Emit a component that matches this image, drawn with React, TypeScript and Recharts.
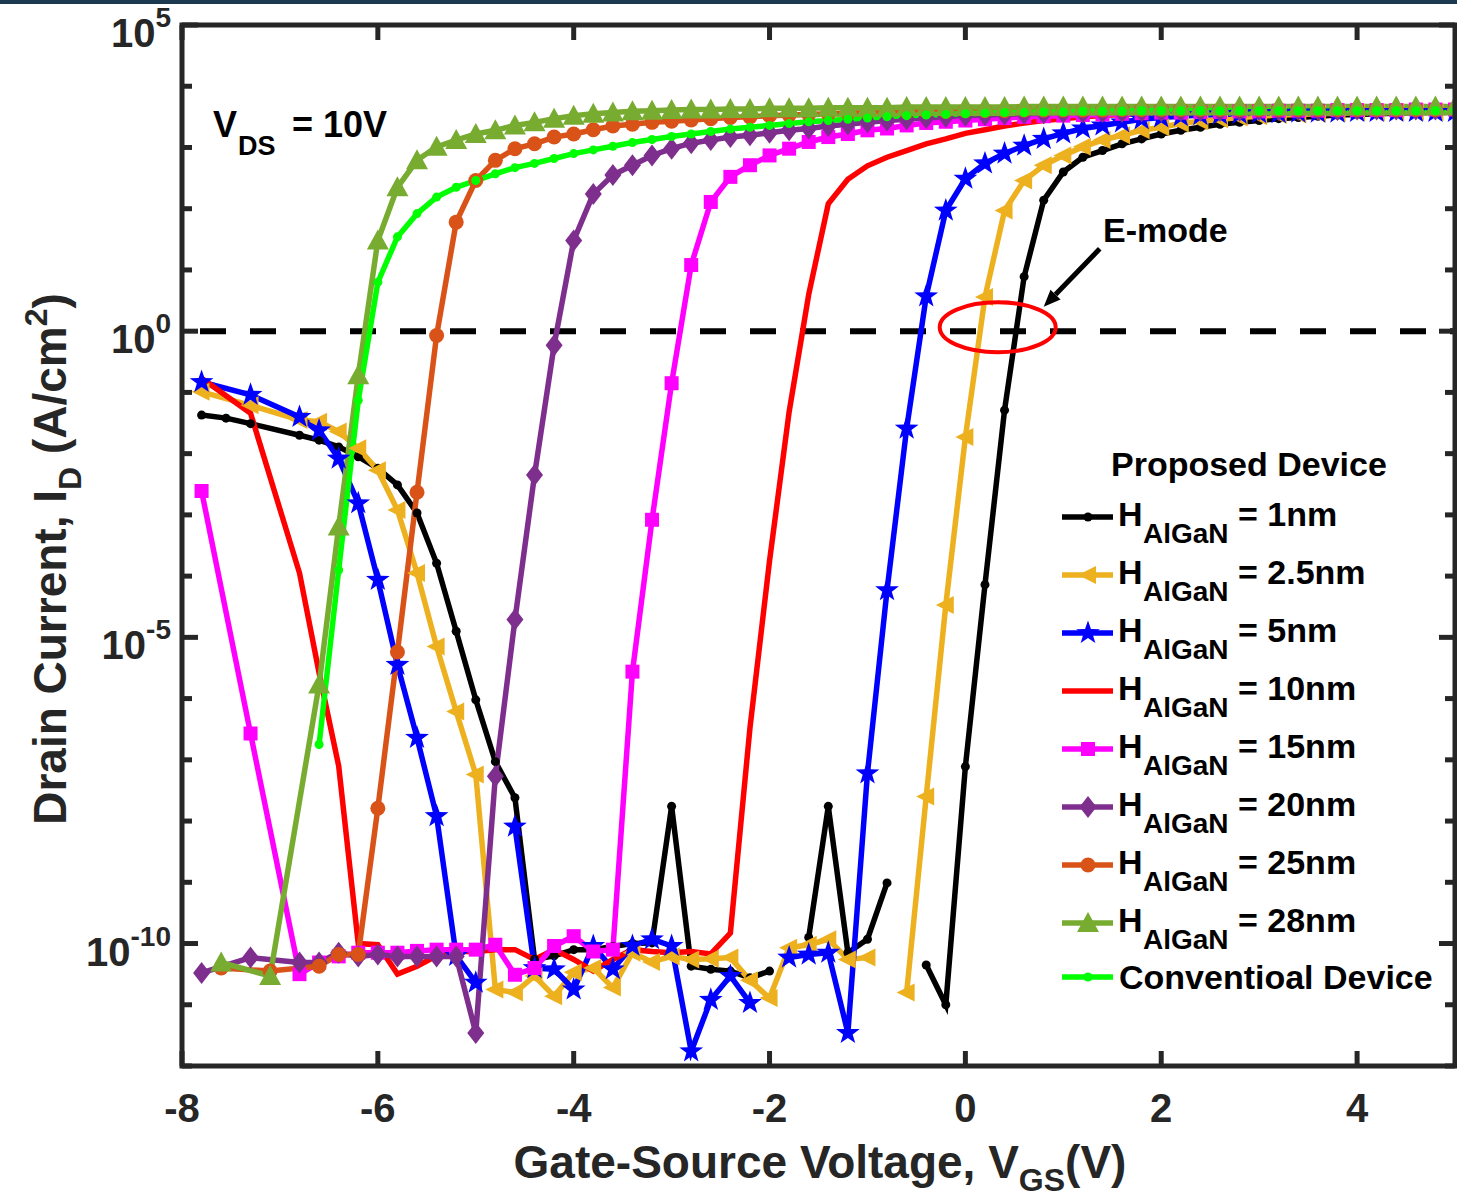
import React from "react";
import { LineChart, Line, XAxis, YAxis, ReferenceLine, ReferenceDot } from "recharts";

const CHART_W = 1457;
const CHART_H = 1199;
const PLOT_LEFT = 182;
const PLOT_RIGHT = 1455;
const PLOT_TOP = 25;
const PLOT_BOTTOM = 1066;
const FONT = '"Liberation Sans", Arial, Helvetica, sans-serif';
const AXIS_COLOR = "#262626";

const vgsTicks = [-8, -6, -4, -2, 0, 2, 4];
const idTicks = [
  1e-12, 1e-11, 1e-10, 1e-9, 1e-8, 1e-7, 1e-6, 1e-5, 1e-4, 1e-3, 1e-2, 1e-1, 1, 1e1, 1e2, 1e3, 1e4, 1e5,
];

// gate sweep (V), shared by the devices after their first coarse points
const vgsSweep = [
  -6.8, -6.6, -6.4, -6.2, -6.0, -5.8, -5.6, -5.4, -5.2, -5.0, -4.8, -4.6, -4.4, -4.2, -4.0,
  -3.8, -3.6, -3.4, -3.2, -3.0, -2.8, -2.6, -2.4, -2.2, -2.0, -1.8, -1.6, -1.4, -1.2, -1.0,
  -0.8, -0.6, -0.4, -0.2, 0, 0.2, 0.4, 0.6, 0.8, 1.0, 1.2, 1.4, 1.6, 1.8, 2.0,
  2.2, 2.4, 2.6, 2.8, 3.0, 3.2, 3.4, 3.6, 3.8, 4.0, 4.2, 4.4, 4.6, 4.8, 5.0,
];
const vgsHead1nm = [-7.8, -7.55, -7.3];
const vgsHeadA = [-7.8, -7.3];
const vgsHeadB = [-7.6, -7.1];

// log10 of drain current (A/cm^2), null = no point (gap)
const logId1nm = [
  -1.37, -1.42, -1.51,
  -1.7, -1.78, -1.89, -2.05, -2.24, -2.51, -2.97, -3.79, -4.9, -6.02, -7.03, -7.62, -10.26, -10.2, -10.1,
  -10.1, -10.05, -10.0, -9.99, -7.76, -10.37, -10.42, -10.45, -10.56, -10.45, null, -9.9, -7.76, -10.15, -9.93,
  -9.01, null, -10.35, -11.0, -7.11, -4.14, -1.29, 0.89, 2.14, 2.6, 2.84, 2.95, 3.06, 3.14, 3.22,
  3.28, 3.33, 3.38, 3.41, 3.44, 3.47, 3.49, 3.51, 3.53, 3.54, 3.55, 3.56, 3.57, 3.57, 3.58,
];
const logId2p5nm = [
  -0.99, -1.21,
  -1.45, -1.48, -1.64, -1.91, -2.27, -2.92, -3.95, -5.15, -6.21, -7.24, -10.75, -10.8, -10.53, -10.86, -10.47,
  -10.4, -10.72, -10.15, -10.3, -10.21, -10.26, -10.25, -10.23, -10.6, -10.89, -10.07, -10.02, -9.93, -10.26, -10.23,
  null, -10.8, -7.6, -4.47, -1.73, 0.56, 1.97, 2.46, 2.71, 2.87, 3.01, 3.12, 3.2, 3.28, 3.33,
  3.39, 3.43, 3.46, 3.49, 3.51, 3.53, 3.54, 3.55, 3.56, 3.57, 3.57, 3.58, 3.58, 3.58, 3.59,
];
const logId5nm = [
  -0.83, -1.04,
  -1.4, -1.62, -2.08, -2.81, -4.06, -5.45, -6.64, -7.92, -10.2, -10.64, null, -8.09, -10.4, -10.42, -10.75,
  -10.04, -10.42, -10.04, -9.93, -10.04, -11.76, -10.92, -10.53, -10.97, null, -10.23, -10.18, -10.15, -11.46, -7.22,
  -4.23, -1.59, 0.57, 1.97, 2.49, 2.74, 2.9, 3.03, 3.14, 3.23, 3.31, 3.36, 3.41, 3.46, 3.49,
  3.51, 3.53, 3.54, 3.55, 3.56, 3.56, 3.57, 3.57, 3.57, 3.58, 3.58, 3.58, 3.58, 3.58, 3.58,
];
const logId10nm = [
  -0.77, -1.34,
  -3.95, -5.58, -7.1, -10.0, -10.02, -10.5, -10.37, -10.2, -10.13, -10.13, -10.1, -10.1, -10.26, -10.1, -10.26,
  -10.45, -10.26, -10.1, -10.13, -10.15, -10.13, -10.17, -9.83, -6.48, -3.75, -1.32, 0.6, 2.08, 2.48, 2.7,
  2.84, 2.95, 3.06, 3.14, 3.23, 3.29, 3.35, 3.4, 3.44, 3.47, 3.5, 3.52, 3.54, 3.55, 3.56,
  3.57, 3.58, 3.58, 3.59, 3.59, 3.59, 3.6, 3.6, 3.6, 3.6, 3.6, 3.6, 3.6, 3.6, 3.6,
];
const logId15nm = [
  -2.61, -6.57,
  -10.5, -10.31, -10.21, -10.15, -10.15, -10.15, -10.12, -10.1, -10.1, -10.1, -10.02, -10.51, -10.4, -10.04, -9.88,
  -10.13, -10.1, -5.56, -3.08, -0.85, 1.08, 2.11, 2.52, 2.71, 2.87, 2.98, 3.09, 3.17, 3.22, 3.28,
  3.31, 3.36, 3.4, 3.42, 3.44, 3.46, 3.48, 3.5, 3.51, 3.52, 3.53, 3.54, 3.55, 3.56, 3.57,
  3.57, 3.58, 3.58, 3.59, 3.59, 3.6, 3.6, 3.6, 3.61, 3.61, 3.61, 3.61, 3.62, 3.62, 3.62,
];
const logId20nm = [
  -10.48, -10.23,
  -10.31, -10.31, -10.15, -10.21, -10.18, -10.21, -10.21, -10.21, -10.21, -11.46, -7.27, -4.71, -2.35, -0.23, 1.48,
  2.24, 2.55, 2.71, 2.87, 2.98, 3.07, 3.12, 3.17, 3.2, 3.24, 3.28, 3.31, 3.35, 3.38, 3.41,
  3.44, 3.46, 3.48, 3.5, 3.52, 3.53, 3.54, 3.55, 3.56, 3.57, 3.57, 3.58, 3.58, 3.59, 3.59,
  3.6, 3.6, 3.6, 3.6, 3.61, 3.61, 3.61, 3.61, 3.61, 3.62, 3.62, 3.62, 3.62, 3.62, 3.62,
];
const logId25nm = [
  -10.4, -10.45,
  -10.37, -10.18, -10.18, -7.79, -5.24, -2.63, -0.07, 1.78, 2.46, 2.79, 2.98, 3.06, 3.17, 3.22,
  3.29, 3.35, 3.38, 3.41, 3.43, 3.45, 3.47, 3.49, 3.5, 3.52, 3.53, 3.54, 3.55, 3.56, 3.57,
  3.58, 3.58, 3.59, 3.59, 3.6, 3.6, 3.6, 3.61, 3.61, 3.61, 3.61, 3.61, 3.62, 3.62, 3.62,
  3.62, 3.62, 3.62, 3.62, 3.62, 3.62, 3.62, 3.62, 3.62, 3.62, 3.62, 3.62, 3.62, 3.62, 3.62,
];
const logId28nm = [
  -10.31, -10.53,
  -5.77, -3.19, -0.72, 1.48, 2.35, 2.79, 3.01, 3.12, 3.22, 3.28, 3.36, 3.41, 3.47, 3.52,
  3.55, 3.57, 3.59, 3.6, 3.61, 3.62, 3.62, 3.63, 3.63, 3.64, 3.64, 3.64, 3.65, 3.65, 3.65,
  3.65, 3.66, 3.66, 3.66, 3.66, 3.66, 3.66, 3.67, 3.67, 3.67, 3.67, 3.67, 3.67, 3.67, 3.67,
  3.67, 3.67, 3.67, 3.67, 3.67, 3.67, 3.67, 3.67, 3.67, 3.67, 3.67, 3.67, 3.67, 3.67, 3.67,
];
const logIdConv = [
  -6.75, -3.9, -1.13, 0.8, 1.54, 1.92, 2.19, 2.35, 2.46, 2.57, 2.67, 2.74, 2.82, 2.9,
  2.96, 3.02, 3.08, 3.13, 3.18, 3.22, 3.26, 3.3, 3.33, 3.36, 3.39, 3.42, 3.44, 3.46, 3.48,
  3.5, 3.52, 3.53, 3.54, 3.55, 3.56, 3.57, 3.57, 3.58, 3.58, 3.59, 3.59, 3.59, 3.6, 3.6,
  3.6, 3.6, 3.6, 3.6, 3.6, 3.6, 3.6, 3.6, 3.6, 3.6, 3.6, 3.6, 3.6, 3.6, 3.6,
];

type MarkerKind = "dot" | "triLeft" | "star" | "none" | "square" | "diamond" | "circle" | "triUp";

interface Series {
  key: string;
  label: string;
  vgs: number[];
  logId: (number | null)[];
  color: string;
  marker: MarkerKind;
}

const series: Series[] = [
  { key: "h1", label: "= 1nm", vgs: [...vgsHead1nm, ...vgsSweep], logId: logId1nm, color: "#000000", marker: "dot" },
  { key: "h2p5", label: "= 2.5nm", vgs: [...vgsHeadA, ...vgsSweep], logId: logId2p5nm, color: "#EDB120", marker: "triLeft" },
  { key: "h5", label: "= 5nm", vgs: [...vgsHeadA, ...vgsSweep], logId: logId5nm, color: "#0000FF", marker: "star" },
  { key: "h10", label: "= 10nm", vgs: [...vgsHeadA, ...vgsSweep], logId: logId10nm, color: "#FF0000", marker: "none" },
  { key: "h15", label: "= 15nm", vgs: [...vgsHeadA, ...vgsSweep], logId: logId15nm, color: "#FF00FF", marker: "square" },
  { key: "h20", label: "= 20nm", vgs: [...vgsHeadA, ...vgsSweep], logId: logId20nm, color: "#7E2F8E", marker: "diamond" },
  { key: "h25", label: "= 25nm", vgs: [...vgsHeadB, ...vgsSweep.slice(1)], logId: logId25nm, color: "#D95319", marker: "circle" },
  { key: "h28", label: "= 28nm", vgs: [...vgsHeadB, ...vgsSweep.slice(1)], logId: logId28nm, color: "#77AC30", marker: "triUp" },
];
const conventional: Series = {
  key: "conv", label: "Conventioal Device", vgs: vgsSweep.slice(1), logId: logIdConv, color: "#00FF00", marker: "dot",
};

const toPoints = (s: Series) =>
  s.vgs.map((v, i) => ({ vgs: v, id: s.logId[i] == null ? null : Math.pow(10, s.logId[i] as number) }));

// annotation anchors in data units
const eModeEllipse = { vgs: 0.33, id: 1.16 };
const eModeArrowTip = { vgs: 0.8, id: 2.5 };

const Marker = ({ kind, cx, cy, color }: { kind: MarkerKind; cx: number; cy: number; color: string }) => {
  switch (kind) {
    case "dot":
      return <circle cx={cx} cy={cy} r={4.5} fill={color} />;
    case "circle":
      return <circle cx={cx} cy={cy} r={7.5} fill={color} />;
    case "square":
      return <rect x={cx - 7} y={cy - 7} width={14} height={14} fill={color} />;
    case "diamond":
      return <polygon points={`${cx},${cy - 11} ${cx + 8.5},${cy} ${cx},${cy + 11} ${cx - 8.5},${cy}`} fill={color} />;
    case "triUp":
      return <polygon points={`${cx},${cy - 11} ${cx + 11},${cy + 9} ${cx - 11},${cy + 9}`} fill={color} />;
    case "triLeft":
      return <polygon points={`${cx - 10},${cy} ${cx + 8},${cy - 9} ${cx + 8},${cy + 9}`} fill={color} />;
    case "star": {
      const pts: string[] = [];
      for (let k = 0; k < 10; k++) {
        const a = ((-90 + k * 36) * Math.PI) / 180;
        const r = k % 2 === 0 ? 12.5 : 5;
        pts.push(`${cx + r * Math.cos(a)},${cy + r * Math.sin(a)}`);
      }
      return <polygon points={pts.join(" ")} fill={color} />;
    }
    default:
      return null;
  }
};

const dotRenderer = (kind: MarkerKind, color: string) => (p: any) => {
  if (p.cx == null || p.cy == null || p.payload?.id == null || isNaN(p.cy)) return <g key={`d-${p.index}`} />;
  return (
    <g key={`d-${p.index}`}>
      <Marker kind={kind} cx={p.cx} cy={p.cy} color={color} />
    </g>
  );
};

const YTick = (props: any) => {
  const y = props.y;
  const exp = Math.round(Math.log10(props.payload.value));
  const major = exp % 5 === 0;
  const len = major ? 16 : 10;
  return (
    <g>
      <line x1={PLOT_LEFT} x2={PLOT_LEFT + len} y1={y} y2={y} stroke={AXIS_COLOR} strokeWidth={5} />
      <line x1={PLOT_RIGHT - len} x2={PLOT_RIGHT} y1={y} y2={y} stroke={AXIS_COLOR} strokeWidth={5} />
      {major && (
        <text x={171} y={y + 22} textAnchor="end" fontFamily={FONT} fontWeight="bold" fontSize={40} fill={AXIS_COLOR}>
          10
          <tspan fontSize={28} dy={-20}>
            {String(exp)}
          </tspan>
        </text>
      )}
    </g>
  );
};

const XTick = (props: any) => {
  const x = props.x;
  return (
    <g>
      <line x1={x} x2={x} y1={PLOT_BOTTOM} y2={PLOT_BOTTOM - 15} stroke={AXIS_COLOR} strokeWidth={5} />
      <line x1={x} x2={x} y1={PLOT_TOP} y2={PLOT_TOP + 15} stroke={AXIS_COLOR} strokeWidth={5} />
      <text x={x} y={1122} textAnchor="middle" fontFamily={FONT} fontWeight="bold" fontSize={40} fill={AXIS_COLOR}>
        {String(props.payload.value)}
      </text>
    </g>
  );
};

const legendRowsY = [517, 575, 633, 691, 749, 807, 865, 923];
const convRowY = 977;

const Overlay = () => (
  <svg
    width={CHART_W}
    height={CHART_H}
    style={{ position: "absolute", left: 0, top: 0, pointerEvents: "none" }}
  >
    <rect
      x={PLOT_LEFT}
      y={PLOT_TOP}
      width={PLOT_RIGHT - PLOT_LEFT}
      height={PLOT_BOTTOM - PLOT_TOP}
      fill="none"
      stroke={AXIS_COLOR}
      strokeWidth={5}
    />
    <g fontFamily={FONT} fontWeight="bold" fill="#000">
      {/* V_DS annotation */}
      <text x={213} y={137} fontSize={36}>V</text>
      <text x={238} y={155} fontSize={27}>DS</text>
      <text x={292} y={137} fontSize={36}>= 10V</text>
      <text x={1103} y={242} fontSize={34}>E-mode</text>

      {/* legend */}
      <text x={1111} y={476} fontSize={34}>Proposed Device</text>
      {series.map((s, i) => {
        const y = legendRowsY[i];
        return (
          <g key={s.key}>
            <line x1={1062} x2={1113} y1={y} y2={y} stroke={s.color} strokeWidth={5.5} />
            <Marker kind={s.marker} cx={1088} cy={y} color={s.color} />
            <text x={1118} y={y + 9} fontSize={34}>H</text>
            <text x={1143} y={y + 26} fontSize={28}>AlGaN</text>
            <text x={1238} y={y + 9} fontSize={34}>{s.label}</text>
          </g>
        );
      })}
      <line x1={1062} x2={1113} y1={convRowY} y2={convRowY} stroke={conventional.color} strokeWidth={5.5} />
      <Marker kind="dot" cx={1088} cy={convRowY} color={conventional.color} />
      <text x={1119} y={convRowY + 12} fontSize={34}>{conventional.label}</text>
    </g>

    {/* axis titles */}
    <g fontFamily={FONT} fontWeight="bold" fill={AXIS_COLOR}>
      <text x={820} y={1178} textAnchor="middle" fontSize={46}>
        Gate-Source Voltage, V
        <tspan fontSize={32} dy={13}>GS</tspan>
        <tspan fontSize={46} dy={-13}>(V)</tspan>
      </text>
      <text x={66} y={559} textAnchor="middle" fontSize={46} transform="rotate(-90 66 559)">
        Drain Current, I
        <tspan fontSize={32} dy={15}>D</tspan>
        <tspan fontSize={46} dy={-15}> (A/cm</tspan>
        <tspan fontSize={32} dy={-19}>2</tspan>
        <tspan fontSize={46} dy={19}>)</tspan>
      </text>
    </g>
  </svg>
);

const EllipseShape = (p: any) => (
  <ellipse cx={p.cx} cy={p.cy} rx={58} ry={25} fill="none" stroke="#FF0000" strokeWidth={4} />
);

const ArrowShape = (p: any) => {
  const tx = p.cx;
  const ty = p.cy;
  const sx = tx + 56;
  const sy = ty - 58;
  const len = Math.hypot(tx - sx, ty - sy);
  const ux = (tx - sx) / len;
  const uy = (ty - sy) / len;
  const hl = 17;
  const hw = 7;
  const bx = tx - ux * hl;
  const by = ty - uy * hl;
  return (
    <g>
      <line x1={sx} y1={sy} x2={bx} y2={by} stroke="#000" strokeWidth={5} />
      <polygon
        points={`${tx},${ty} ${bx - uy * hw},${by + ux * hw} ${bx + uy * hw},${by - ux * hw}`}
        fill="#000"
      />
    </g>
  );
};

export default function App() {
  return (
    <div style={{ position: "absolute", left: 0, top: 0, width: CHART_W, height: CHART_H, background: "#fff" }}>
      <div style={{ position: "absolute", left: 0, top: 0, width: CHART_W, height: 4, background: "#1b3a52" }} />
      <LineChart
        width={CHART_W}
        height={CHART_H}
        margin={{ top: PLOT_TOP, right: CHART_W - PLOT_RIGHT, left: 82, bottom: 73 }}
      >
        <XAxis
          type="number"
          dataKey="vgs"
          domain={[-8, 5]}
          ticks={vgsTicks}
          interval={0}
          allowDataOverflow
          height={60}
          tickSize={0}
          tickMargin={0}
          tickLine={false}
          axisLine={false}
          tick={<XTick />}
        />
        <YAxis
          type="number"
          scale="log"
          domain={[1e-12, 1e5]}
          ticks={idTicks}
          interval={0}
          allowDataOverflow
          width={100}
          tickSize={0}
          tickMargin={0}
          tickLine={false}
          axisLine={false}
          tick={<YTick />}
        />
        <ReferenceLine
          y={1}
          stroke="#000"
          strokeWidth={6}
          strokeDasharray="26 24"
          strokeDashoffset={-18}
        />
        {series.map((s) => (
          <Line
            key={s.key}
            data={toPoints(s)}
            dataKey="id"
            type="linear"
            stroke={s.color}
            strokeWidth={5.5}
            dot={s.marker === "none" ? false : dotRenderer(s.marker, s.color)}
            activeDot={false}
            isAnimationActive={false}
            connectNulls={false}
          />
        ))}
        <Line
          data={toPoints(conventional)}
          dataKey="id"
          type="linear"
          stroke={conventional.color}
          strokeWidth={5.5}
          dot={dotRenderer("dot", conventional.color)}
          activeDot={false}
          isAnimationActive={false}
        />
        <ReferenceDot x={eModeEllipse.vgs} y={eModeEllipse.id} shape={EllipseShape} />
        <ReferenceDot x={eModeArrowTip.vgs} y={eModeArrowTip.id} shape={ArrowShape} />
      </LineChart>
      <Overlay />
    </div>
  );
}
